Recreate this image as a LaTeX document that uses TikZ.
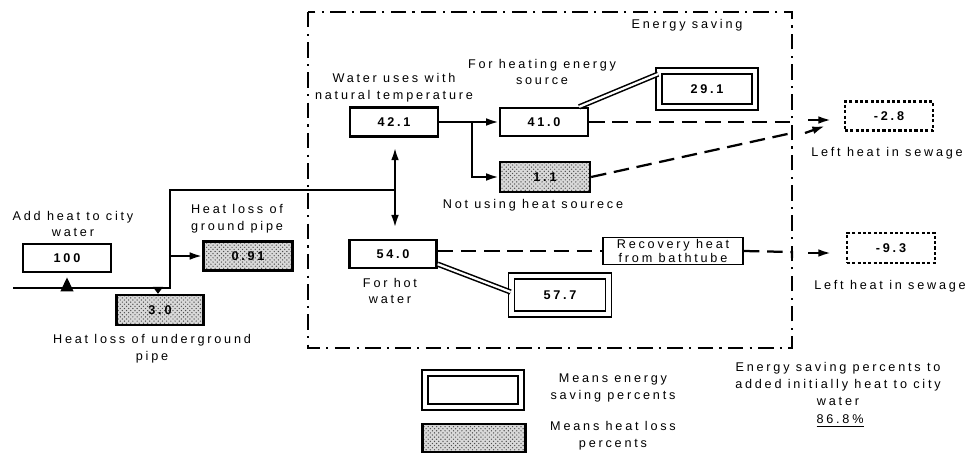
\documentclass[tikz,border=0pt]{standalone}
\usepackage{fontspec}
\setmainfont{Liberation Sans}[LetterSpace=22]
\usepackage{tikz}
\usetikzlibrary{arrows.meta, calc, patterns}

\begin{document}
\begin{tikzpicture}[x=0.025cm, y=-0.025cm,
  lbl/.style={font=\fontsize{9}{12}\selectfont, align=center, inner sep=0pt},
  valbox/.style={draw, line width=1.6pt, inner sep=0pt, font=\fontsize{9}{10}\selectfont\bfseries},
  savebox/.style={valbox, line width=1.3pt, double, double distance=3pt},
  lossbox/.style={valbox, preaction={fill=gray!30}, pattern=crosshatch dots, pattern color=black!70},
  leftbox/.style={valbox, line width=1.7pt, dash pattern=on 2.2pt off 1.6pt},
  pipe/.style={line width=1.6pt},
  dashpipe/.style={line width=1.6pt, dash pattern=on 11pt off 5.5pt},
  dblline/.style={line width=1.1pt, double, double distance=1.6pt},
  frameline/.style={line width=2pt, dash pattern=on 11pt off 4.5pt on 1.5pt off 4.5pt},
  tip/.style={-{Latex[length=9pt, width=5.5pt]}}]
\useasboundingbox (0,0) rectangle (978,454);

% energy saving frame
\draw[frameline] (308,12) rectangle (792,348);
\node[lbl] (tsave) at (687,25) {Energy saving};

% value boxes
\node[valbox, minimum width=2.2cm, minimum height=0.7cm] (v100) at (67,258) {100};
\node[lossbox, minimum width=2.225cm, minimum height=0.725cm] (v091) at (248,256) {0.91};
\node[lossbox, minimum width=2.175cm, minimum height=0.75cm] (v30) at (160,310) {3.0};
\node[valbox, minimum width=2.2cm, minimum height=0.725cm] (v421) at (394,122) {42.1};
\node[valbox, minimum width=2.2cm, minimum height=0.7cm] (v410) at (544,122) {41.0};
\node[lossbox, minimum width=2.25cm, minimum height=0.75cm] (v11) at (545,177) {1.1};
\node[savebox, minimum width=2.4cm, minimum height=0.9cm] (v291) at (707,89) {29.1};
\node[valbox, minimum width=2.175cm, minimum height=0.7cm] (v540) at (393,254) {54.0};
\node[savebox, minimum width=2.425cm, minimum height=0.95cm] (v577) at (560,295) {57.7};
\node[valbox, line width=1.3pt, font=\fontsize{9}{9.5}\selectfont, align=center,
  minimum width=3.5cm, minimum height=0.675cm] (vrec) at (673,251) {Recovery heat\\from bathtube};
\node[leftbox, minimum width=2.2cm, minimum height=0.725cm] (v28) at (889,116) {-2.8};
\node[leftbox, minimum width=2.2cm, minimum height=0.75cm] (v93) at (891,248) {-9.3};

% labels
\node[lbl] (tadd) at (73,224) {Add heat to city\\water};
\node[lbl] (tground) at (237,219) {Heat loss of\\ground pipe};
\node[lbl] (tunder) at (152,349) {Heat loss of underground\\pipe};
\node[lbl] (tnat) at (394,88) {Water uses with\\natural temperature};
\node[lbl] (theat) at (542,72) {For heating energy\\source};
\node[lbl] (tnot) at (533,205) {Not using heat sourece};
\node[lbl] (thot) at (390,291) {For hot\\water};
\node[lbl] (tsew1) at (887,153) {Left heat in sewage};
\node[lbl] (tsew2) at (890,286) {Left heat in sewage};

% city water pipe
\coordinate (inlet) at (13,288);
\coordinate (tap) at (158,288);
\coordinate (rise) at (170,288);
\coordinate (join) at (395,190);
\draw[pipe] (inlet) -- (rise) |- (join);
\draw[pipe, -{Triangle[length=10pt, width=9pt]}, shorten >=3pt] (v100.south |- inlet) -- (v100.south);
\draw[pipe, -{Triangle[length=5pt, width=7pt]}] (tap) -- (v30.north -| tap);
\draw[pipe, tip] (v091.west -| rise) -- (v091.west);

% natural temperature / hot water
\draw[pipe, {Latex[length=9pt, width=5.5pt]}-{Latex[length=9pt, width=5.5pt]},
  shorten <=7pt, shorten >=8pt] (v421.south -| join) -- (v540.north -| join);
\coordinate (split) at (472,122);
\draw[pipe, tip] (v421.east) -- (v410.west);
\draw[pipe, tip] (split) |- (v11.west);
\draw[dblline] ($(v410.north east)+(-10,0)$) -- ($(v291.north west)+(0,4)$);
\draw[dblline] ($(v540.south east)+(0,-5)$) -- ($(v577.west)+(0,-3)$);

% sewage
\coordinate (s1) at (792,122);
\coordinate (s2) at (792,252);
\draw[dashpipe] (v410.east) -- (s1) -- ++(0,7);
\draw[dashpipe] (v11.east) -- (792,133);
\draw[dashpipe] (v540.east |- vrec.west) -- (vrec.west);
\draw[dashpipe] (vrec.east) -- (s2) -- ++(0,6);
\draw[pipe, tip] (808,120) -- (831,120);
\draw[pipe, tip] (805,133) -- (825,126);
\draw[pipe, tip] (808,253) -- (831,253);

% legend
\node[savebox, minimum width=2.4cm, minimum height=0.85cm] (legsave) at (473,390) {};
\node[lossbox, minimum width=2.575cm, minimum height=0.7cm] (legloss) at (474,438) {};
\node[lbl] (tlegsave) at (613,388) {Means energy\\saving percents};
\node[lbl] (tlegloss) at (613,436) {Means heat loss\\percents};
\node[lbl] (ttotal) at (838,384) {Energy saving percents to\\added initially heat to city\\water};
\node[lbl] (vtotal) at (840,421) {\underline{86.8\%}};
\end{tikzpicture}
\end{document}
